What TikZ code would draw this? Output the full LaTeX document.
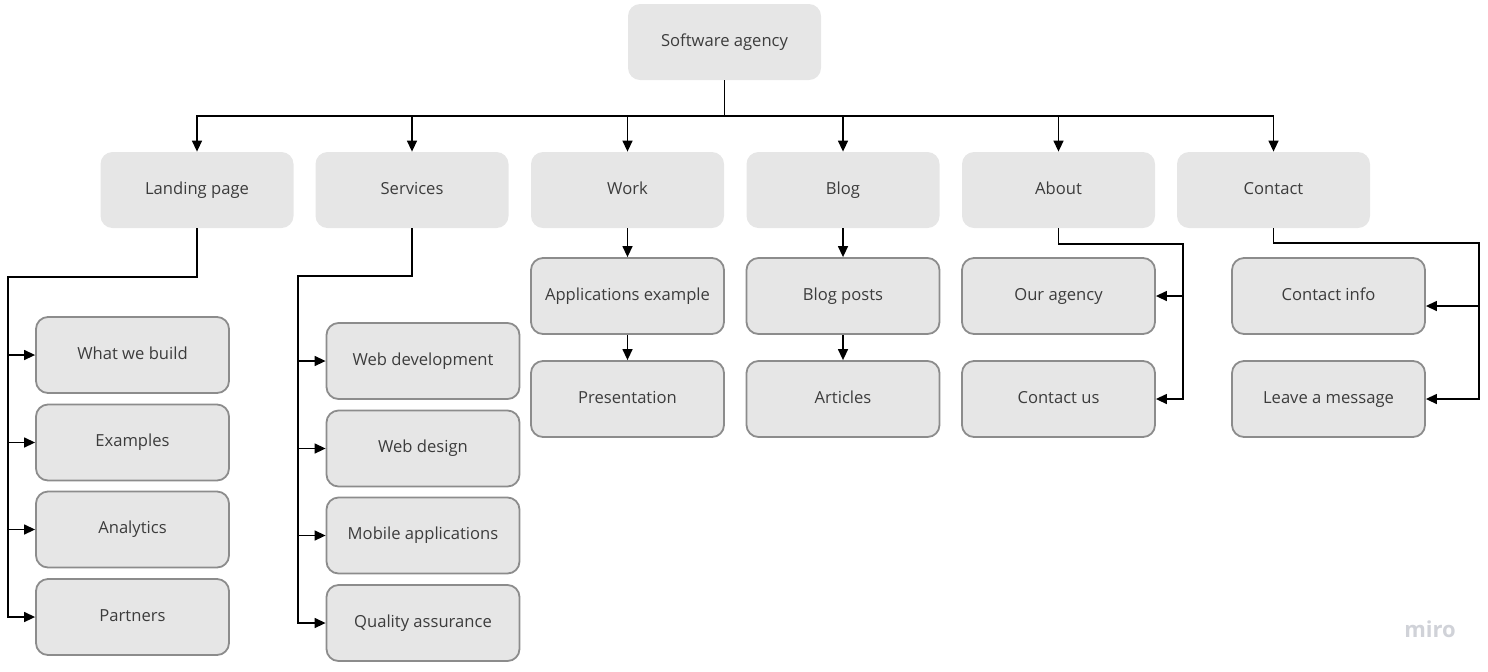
\documentclass[tikz,border=0pt]{standalone}
\usepackage{fontspec}
\setmainfont{Open Sans}
\usetikzlibrary{arrows.meta,positioning,calc}
\definecolor{boxgray}{HTML}{E6E6E6}
\definecolor{edgegray}{HTML}{8C8C8C}
\definecolor{textgray}{HTML}{3C3C3C}
\definecolor{mirogray}{HTML}{D0D2D8}

\begin{document}
\begin{tikzpicture}[x=0.5pt, y=-0.5pt,
    topbox/.style={fill=boxgray, rounded corners=6pt, minimum width=96.5pt,
        minimum height=38pt, inner sep=0pt, text=textgray,
        text height=6pt, text depth=1.8pt,
        font=\fontsize{8.3}{10}\selectfont},
    subbox/.style={topbox, draw=edgegray, line width=0.9pt},
    arr/.style={-{Triangle[length=5.5pt,width=5pt]}, line width=0.7pt},
    link/.style={line width=0.7pt}]
    \useasboundingbox (0,0) rectangle (1488,671);

    % Root
    \node[topbox] (root) at (724.5, 42) {Software agency};

    % First level
    \node[topbox] (landing) at (197, 190) {Landing page};
    \node[topbox] (services) at (412, 190) {Services};
    \node[topbox] (work) at (627.5, 190) {Work};
    \node[topbox] (blog) at (843, 190) {Blog};
    \node[topbox] (about) at (1058.5, 190) {About};
    \node[topbox] (contact) at (1273.5, 190) {Contact};

    % Landing page pages
    \node[subbox] (build) at (132.5, 355) {What we build};
    \node[subbox] (examples) at (132.5, 442.5) {Examples};
    \node[subbox] (analytics) at (132.5, 529.5) {Analytics};
    \node[subbox] (partners) at (132.5, 617) {Partners};

    % Services pages
    \node[subbox] (webdev) at (423, 361) {Web development};
    \node[subbox] (webdesign) at (423, 448.5) {Web design};
    \node[subbox] (mobile) at (423, 535.5) {Mobile applications};
    \node[subbox] (quality) at (423, 623) {Quality assurance};

    % Work and Blog pages
    \node[subbox] (apps) at (627.5, 296) {Applications example};
    \node[subbox] (present) at (627.5, 399) {Presentation};
    \node[subbox] (posts) at (843, 296) {Blog posts};
    \node[subbox] (articles) at (843, 399) {Articles};

    % About and Contact pages
    \node[subbox] (agency) at (1058.5, 296) {Our agency};
    \node[subbox] (contactus) at (1058.5, 399) {Contact us};
    \node[subbox] (info) at (1328.5, 296) {Contact info};
    \node[subbox] (message) at (1328.5, 399) {Leave a message};

    % Connectors
    \coordinate (bus) at (724.5, 116);
    \draw[link] (root.south) -- (bus);
    \foreach \n in {landing, services, work, blog, about, contact}
        \draw[arr] (bus) -| (\n.north);

    \coordinate (lpturn) at (8, 277);
    \foreach \n in {build, examples, analytics, partners}
        \draw[arr] (landing.south) |- (lpturn) |- (\n.west);

    \coordinate (svturn) at (298, 276);
    \foreach \n in {webdev, webdesign, mobile, quality}
        \draw[arr] (services.south) |- (svturn) |- (\n.west);

    \draw[arr] (work.south) -- (apps.north);
    \draw[arr] (apps.south) -- (present.north);
    \draw[arr] (blog.south) -- (posts.north);
    \draw[arr] (posts.south) -- (articles.north);

    \coordinate (abturn) at (1183, 244);
    \foreach \n in {agency, contactus}
        \draw[arr] (about.south) |- (abturn) |- (\n.east);

    \coordinate (ctturn) at (1479, 243);
    \draw[arr] (contact.south) |- (ctturn) |- ($(info.east)+(0,10)$);
    \draw[arr] (contact.south) |- (ctturn) |- (message.east);

    % Watermark
    \node[text=mirogray, font=\fontsize{11}{12}\selectfont\bfseries] (miro) at (1430, 629) {miro};
\end{tikzpicture}
\end{document}
